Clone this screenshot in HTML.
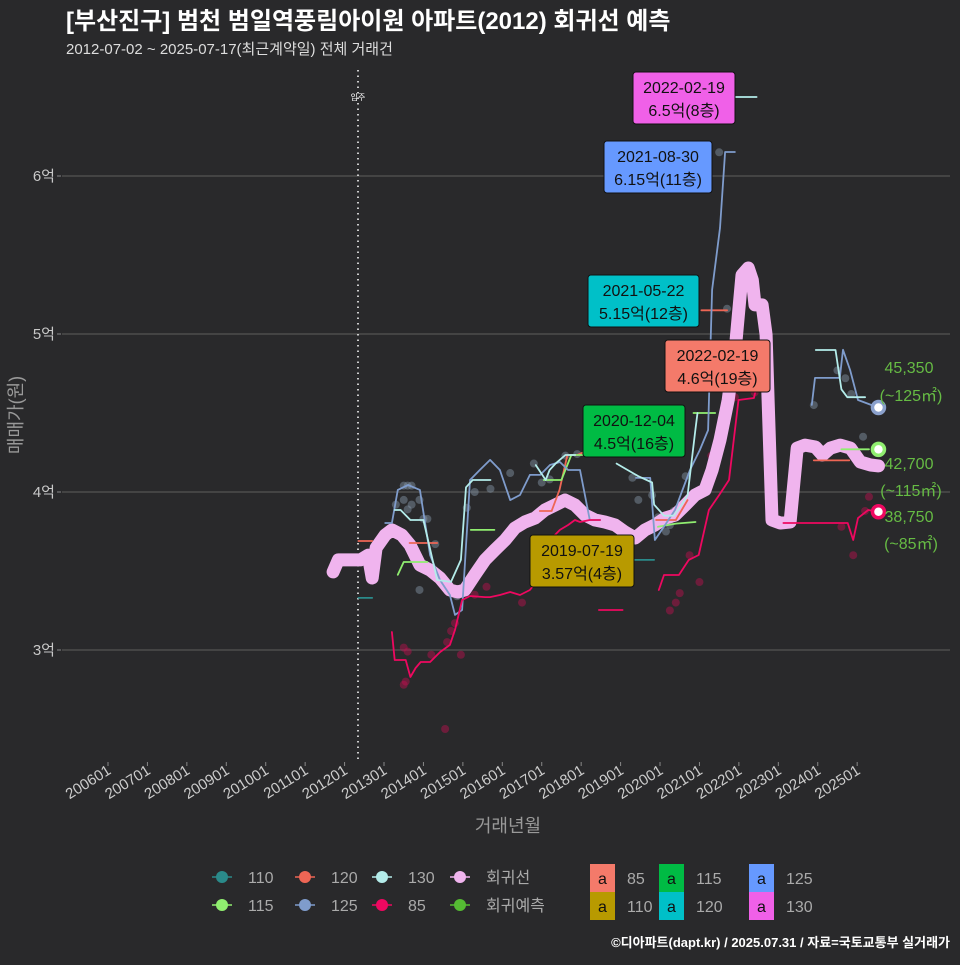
<!DOCTYPE html>
<html><head><meta charset="utf-8">
<style>
html,body{margin:0;padding:0;background:#29292b;}
body{width:960px;height:960px;overflow:hidden;font-family:"Liberation Sans","Noto Sans CJK KR",sans-serif;}
svg text{font-family:"Liberation Sans","Noto Sans CJK KR",sans-serif;}
</style></head>
<body>
<svg id="chart" width="960" height="960" xmlns="http://www.w3.org/2000/svg">
<rect x="0" y="0" width="960" height="960" fill="#29292b"/>
<text x="66" y="29" fill="#ffffff" font-size="24" font-weight="bold">[부산진구] 범천 범일역풍림아이원 아파트(2012) 회귀선 예측</text>
<text x="66" y="54" fill="#dddddd" font-size="15">2012-07-02 ~ 2025-07-17(최근계약일) 전체 거래건</text>
<g id="grid"></g>
<g id="marks"></g>
<g id="labels"></g>
<text x="508" y="832" fill="#999" font-size="18" text-anchor="middle">거래년월</text>
<text transform="translate(22,415) rotate(-90)" fill="#999" font-size="18" text-anchor="middle">매매가(원)</text>
<g id="legend"></g>
<text x="950" y="947" fill="#ffffff" font-size="13" font-weight="bold" text-anchor="end">©디아파트(dapt.kr) / 2025.07.31 / 자료=국토교통부 실거래가</text>
</svg>
<script>
const NS='http://www.w3.org/2000/svg';
// ---- data ----
const xTickYears=[2006,2007,2008,2009,2010,2011,2012,2013,2014,2015,2016,2017,2018,2019,2020,2021,2022,2023,2024,2025];
const yTickValues=[30000,40000,50000,60000];
const yTickLabels=['3억','4억','5억','6억'];
const regYears=[2011.71,2011.84,2012.4,2012.6,2012.7,2012.8,2013.03,2013.2,2013.45,2013.66,2013.91,2014.17,2014.42,2014.67,2014.87,2015.05,2015.3,2015.56,2015.81,2016.07,2016.32,2016.57,2016.83,2017.08,2017.34,2017.59,2017.84,2018.1,2018.35,2018.6,2018.86,2019.11,2019.37,2019.62,2019.87,2020.13,2020.38,2020.64,2020.89,2021.14,2021.32,2021.52,2021.73,2021.93,2022.08,2022.24,2022.34,2022.41,2022.59,2022.69,2022.74,2022.84,2023.05,2023.3,2023.48,2023.68,2023.94,2024.12,2024.32,2024.57,2024.83,2025.08,2025.34,2025.54];
const regValues=[34940,35700,35700,36000,34560,36460,37280,37600,37280,36650,35380,35060,34560,33800,33670,33800,34750,35700,36330,36960,37720,38100,38350,38860,39180,39490,39180,38540,38230,38100,37910,37470,37090,37600,37910,38350,38540,39180,39810,40130,41390,43290,45820,49620,53730,54180,53420,51840,51840,49940,45820,38230,38040,38100,42780,42970,42850,42340,42780,42970,42780,41900,41710,41650];
const s85Years=[2013.2,2013.27,2013.55,2013.67,2013.8,2013.93,2014.17,2014.42,2014.67,2014.8,2014.98,2015.18,2015.56,2015.69,2015.94,2016.2,2016.45,2016.7,2016.9,2017.21,2017.46,2017.67,2017.84,2017.97,2018.22,2018.48,null,2018.45,2019.05,null,2019.97,2020.1,2020.48,2020.73,2020.98,2021.24,2021.5,2021.75,2021.99,2022.38,2022.43,null,2023.13,2024.76,2024.9,2025.02,2025.28,2025.53];
const s85Values=[31140,29370,29370,28290,28860,29240,29240,29870,30320,31270,33160,33420,33350,33350,33480,33670,33480,33800,34430,36960,37600,37910,38230,38100,38230,38230,null,32530,32530,null,33800,34750,34750,35700,36010,38860,39810,40760,45820,45950,46460,null,38040,38040,36960,38350,38860,38750];
const s110Years=[2012.35,2012.7,null,2019.35,2019.85];
const s110Values=[33300,33300,null,35700,35700];
const s115Years=[2013.35,2013.5,2013.9,2014.1,null,2015.2,2015.8,null,2017.05,2017.5,2017.75,2018.1,null,2019.95,2020.4,2020.9,null,2020.85,2021.4,null,2024.6,2025.3];
const s115Values=[34760,35570,35570,35570,null,37600,37600,null,40760,40760,42340,42340,null,37800,38000,38100,null,45000,45000,null,42700,42700];
const s120Years=[2012.35,2012.7,null,2013.65,2014.35,null,2016.95,2017.25,2017.45,2017.65,2017.9,2018.2,null,2019.9,2020.4,2020.7,null,2021.05,2021.7,null,2023.9,2024.8];
const s120Values=[36900,36900,null,36770,36770,null,38800,38800,40130,42340,42340,42660,null,38230,38230,39490,null,51500,51500,null,42000,42000];
const s125Years=[2013.03,2013.2,2013.35,2013.61,2013.91,2014.17,2014.42,2014.67,2014.8,2014.98,2015.18,2015.43,2015.69,2015.94,2016.2,2016.45,2016.7,2016.96,2017.21,2017.46,2017.67,2017.97,2018.22,2018.48,null,2019.39,2019.75,2019.87,2020.13,2020.38,2020.76,2021.01,2021.22,2021.32,2021.52,2021.65,2021.9,null,2023.85,2023.93,2024.56,2024.64,2024.82,2025.02,2025.53];
const s125Values=[38040,38040,40130,40440,40130,36010,34430,33480,32220,32530,40760,41390,42030,41390,39490,39810,41080,41080,41710,41900,41390,41390,38230,38230,null,40890,40890,36960,37910,38860,41390,42660,43920,52790,56710,61520,61520,null,45510,47220,47220,49000,47720,45820,45350];
const s130Years=[2013.27,2013.42,2013.67,2014.0,2014.35,2014.7,2014.95,2015.08,2015.25,2015.5,2015.7,null,2016.85,2017.1,2017.2,2017.35,2017.6,2017.85,null,2018.9,2019.45,2019.8,2019.85,2020.1,2020.35,2020.55,2020.7,2020.9,2020.95,null,2021.9,2022.45,null,2023.95,2024.45,2024.6,2024.75,2025.2];
const s130Values=[38860,38860,38230,38230,34430,34310,35700,40300,40760,40760,40760,null,41700,40760,41390,41800,42340,42340,null,41800,41000,40600,39200,38500,38500,39200,39800,44000,45000,null,65000,65000,null,48990,48990,46500,46000,46000];
const dot85=[[2013.5,30150],[2013.6,29900],[2013.55,28000],[2013.5,27800],[2014.2,29700],[2014.6,30500],[2014.7,31200],[2014.8,31700],[2014.95,29700],[2014.55,25000],[2015.3,33500],[2015.6,34000],[2016.5,33000],[2016.9,34500],[2017.6,35700],[2018.1,36300],[2020.25,32500],[2020.4,33000],[2020.5,33600],[2020.75,36000],[2021.0,34300],[2021.3,42300],[2021.6,44700],[2021.9,46000],[2022.4,46300],[2024.9,36000],[2025.2,38800],[2025.3,39700],[2024.6,37800]];
const dotOther=[[2013.3,39200],[2013.5,40400],[2013.6,40400],[2013.7,40400],[2013.5,39500],[2013.6,38900],[2013.7,39200],[2013.9,39500],[2014.0,38300],[2014.1,38300],[2013.8,35800],[2013.9,33800],[2014.3,36700],[2014.6,33900],[2014.85,33400],[2014.9,33500],[2015.1,39000],[2015.3,40000],[2015.7,40200],[2016.2,41200],[2016.8,41800],[2017.0,40600],[2017.2,40800],[2017.6,42300],[2017.9,42400],[2018.4,36700],[2019.3,40900],[2019.45,39500],[2019.8,39800],[2019.95,38400],[2020.15,37500],[2020.25,37900],[2020.35,38800],[2020.65,41000],[2021.7,51600],[2021.5,61500],[2021.6,65000],[2023.9,45500],[2024.5,47700],[2024.7,47200],[2024.85,46200],[2025.15,43500]];
const lastYear=2025.54;
const endValues=[45350,42700,38750];
const endLines=['45,350','42,700','38,750'];
const endAreas=['(~125㎡)','(~115㎡)','(~85㎡)'];
// ---- scales ----
function X(y){return 108+(y-2006)*39.43;}
function Y(v){return 650-(v-30000)*0.0158;}
function el(tag,attrs,parent){const e=document.createElementNS(NS,tag);for(const k in attrs)e.setAttribute(k,attrs[k]);parent.appendChild(e);return e;}
const grid=document.getElementById('grid'),marks=document.getElementById('marks'),labels=document.getElementById('labels'),legend=document.getElementById('legend');
yTickValues.forEach((v,i)=>{
  const g=el('line',{x1:62,x2:950,y1:Y(v),y2:Y(v),stroke:'#5e5e5e','stroke-width':1},grid);
  
  
  const tk=el('line',{x1:57,x2:61,y1:Y(v),y2:Y(v),stroke:'#888'},grid);
  
  
  const t=el('text',{x:55,y:Y(v)+5,fill:'#c8c8c8','font-size':15,'text-anchor':'end'},grid);
  t.textContent=yTickLabels[i];
  
  
});
xTickYears.forEach(yr=>{
  const x=X(yr);
  const tk=el('line',{x1:x,x2:x,y1:762,y2:766,stroke:'#888'},grid);
  
  
  const t=el('text',{transform:`translate(${x+4},773) rotate(-32)`,fill:'#ccc','font-size':15,'text-anchor':'end'},grid);
  t.textContent=yr+'01';
  
  
});
const mv=el('line',{x1:358,x2:358,y1:70,y2:760,stroke:'#ccc','stroke-width':2,'stroke-dasharray':'1.5,4'},grid);


const mvt=el('text',{x:358,y:100,fill:'#fff','font-size':8,'text-anchor':'middle'},grid);
mvt.textContent='입주';


dotOther.forEach(d=>{
  const c=el('circle',{cx:X(d[0]),cy:Y(d[1]),r:4,fill:'#8898aa','fill-opacity':0.45},marks);
  
  
});
dot85.forEach(d=>{
  const c=el('circle',{cx:X(d[0]),cy:Y(d[1]),r:4,fill:'#c01050','fill-opacity':0.45},marks);
  
  
});
function path(ys,vs,color,w,name,op){
  let d='',pen=false;
  ys.forEach((y,i)=>{if(y===null){pen=false;return;}d+=(pen?'L':'M')+X(y).toFixed(1)+','+Y(vs[i]).toFixed(1);pen=true;});
  const p=el('path',{d:d,fill:'none',stroke:color,'stroke-width':w,'stroke-linejoin':'round','stroke-linecap':'round','stroke-opacity':op||1},marks);
  
  
}
path(regYears,regValues,'#f0b4ee',13,'regression-line');
path(s110Years,s110Values,'#2a8a8a',1.8,'series-110');
path(s120Years,s120Values,'#ee6655',1.8,'series-120');
path(s115Years,s115Values,'#90ee70',1.8,'series-115');
path(s125Years,s125Values,'#7f9ccc',1.8,'series-125');
path(s130Years,s130Values,'#b4ecea',1.8,'series-130');
path(s85Years,s85Values,'#ee0860',1.8,'series-85');
const endColors=['#8aa0cc','#90ee70','#ee0860'];
endValues.forEach((v,i)=>{
  const c=el('circle',{cx:X(lastYear),cy:Y(v),r:6,fill:'#fff',stroke:endColors[i],'stroke-width':3.5},marks);
  
  
});
const endLabelY=[[368,396],[464,491],[517,544]];
endValues.forEach((v,i)=>{
  const a=el('text',{x:909,y:endLabelY[i][0]+5,fill:'#66bb44','font-size':16,'text-anchor':'middle'},labels);
  a.textContent=endLines[i];
  
  
  const b=el('text',{x:911,y:endLabelY[i][1]+5,fill:'#66bb44','font-size':16,'text-anchor':'middle'},labels);
  b.textContent=endAreas[i];
  
  
});
const callouts=[
 {x:633,y:72,w:102,h:52,c:'#f060e8',a:'2022-02-19',b:'6.5억(8층)'},
 {x:604,y:141,w:108,h:52,c:'#6699ff',a:'2021-08-30',b:'6.15억(11층)'},
 {x:588,y:275,w:111,h:52,c:'#00c0c8',a:'2021-05-22',b:'5.15억(12층)'},
 {x:665,y:340,w:105,h:52,c:'#f47a6a',a:'2022-02-19',b:'4.6억(19층)'},
 {x:583,y:405,w:102,h:52,c:'#00bb44',a:'2020-12-04',b:'4.5억(16층)'},
 {x:530,y:535,w:104,h:52,c:'#b89a00',a:'2019-07-19',b:'3.57억(4층)'}
];
callouts.forEach(o=>{
  const g=el('g',{},labels);
  
  
  el('rect',{x:o.x,y:o.y,width:o.w,height:o.h,rx:3,fill:o.c,stroke:'#111','stroke-width':1},g);
  const t1=el('text',{x:o.x+o.w/2,y:o.y+21,'font-size':16,fill:'#111','text-anchor':'middle'},g);t1.textContent=o.a;
  const t2=el('text',{x:o.x+o.w/2,y:o.y+44,'font-size':16,fill:'#111','text-anchor':'middle'},g);t2.textContent=o.b;
});
const legItems=[[222,877,'#2a8a8a','110'],[305,877,'#ee6655','120'],[382,877,'#b4ecea','130'],[460,877,'#f0b4ee','회귀선'],
 [222,905,'#90ee70','115'],[305,905,'#7f9ccc','125'],[382,905,'#ee0860','85'],[460,905,'#55bb33','회귀예측']];
legItems.forEach(it=>{
  const g=el('g',{},legend);
  
  
  el('line',{x1:it[0]-10,x2:it[0]+10,y1:it[1],y2:it[1],stroke:it[2],'stroke-width':1.5},g);
  el('circle',{cx:it[0],cy:it[1],r:6,fill:it[2]},g);
  const t=el('text',{x:it[0]+26,y:it[1]+6,fill:'#aaa','font-size':16},g);t.textContent=it[3];
});
const boxItems=[[590,864,'#f47a6a','85'],[659,864,'#00bb44','115'],[749,864,'#6699ff','125'],[590,892,'#b89a00','110'],[659,892,'#00c0c8','120'],[749,892,'#f060e8','130']];
boxItems.forEach(it=>{
  const g=el('g',{},legend);
  
  
  el('rect',{x:it[0],y:it[1],width:25,height:28,fill:it[2]},g);
  const a=el('text',{x:it[0]+12.5,y:it[1]+20,fill:'#111','font-size':16,'text-anchor':'middle'},g);a.textContent='a';
  const t=el('text',{x:it[0]+37,y:it[1]+20,fill:'#aaa','font-size':16},g);t.textContent=it[3];
});
</script>
</body></html>
